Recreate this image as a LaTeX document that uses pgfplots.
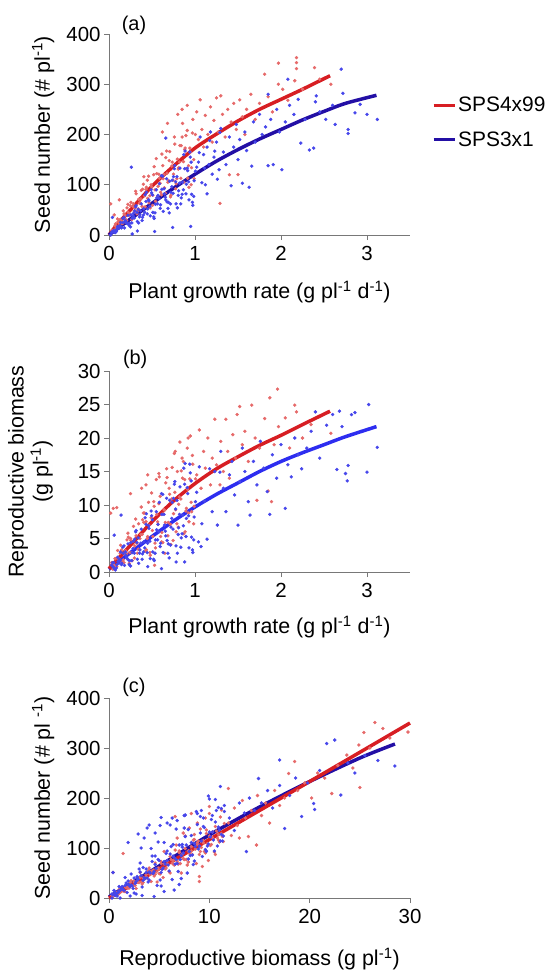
\documentclass[border=0pt]{standalone}
\usepackage{fontspec}
\setmainfont{Liberation Sans}
\usepackage{pgfplots}
\pgfplotsset{compat=1.18}

\definecolor{redpt}{RGB}{230,105,105}
\definecolor{bluept}{RGB}{70,70,235}
\definecolor{redln}{RGB}{215,30,35}
\definecolor{blueln}{RGB}{35,15,165}
\definecolor{bluelnb}{RGB}{45,45,240}
\definecolor{axgray}{RGB}{120,120,120}

\pgfplotsset{
  panel/.style={
    scale only axis, width=301bp, height=201bp,
    axis x line*=bottom, axis y line*=left,
    axis line style={axgray, line width=0.8bp},
    tick style={axgray, line width=0.8bp},
    tick align=outside, major tick length=5bp,
    tick label style={font=\fontsize{20.5}{22}\selectfont, black},
    /pgf/number format/assume math mode=true,
    label style={font=\fontsize{21.5}{25}\selectfont},
    clip=false,
    xticklabel style={yshift=-3bp},
  },
  redpts/.style={only marks, color=redpt, mark=*, mark size=1.5bp, mark options={draw=none, fill=redpt}, forget plot},
  bluepts/.style={only marks, color=bluept, mark=*, mark size=1.5bp, mark options={draw=none, fill=bluept}, forget plot},
  fit/.style={no marks, smooth, line width=3.5bp},
}

\begin{document}
\begin{tikzpicture}
\useasboundingbox (0,0) rectangle (558bp,-971bp);

% ---------- (a)
\begin{axis}[panel, at={(109bp,-235bp)}, anchor=south west,
    xmin=0, xmax=3.5, ymin=0, ymax=400,
    xtick={0,1,2,3}, ytick={0,100,200,300,400},
    xlabel={Plant growth rate (g pl\textsuperscript{-1} d\textsuperscript{-1})},
    ylabel={Seed number (\# pl\textsuperscript{-1})},
    xlabel style={at={(axis description cs:0.5,-0.284)}, anchor=center},
    ylabel style={at={(axis description cs:-0.219,0.5)}, anchor=center},
    legend style={at={(1.073,0.56)}, anchor=west, draw=none, fill=none,
      font=\fontsize{21}{25}\selectfont, row sep=14bp, inner xsep=0pt},
    legend cell align=left,
    every even column/.append style={column sep=5bp},
    legend image code/.code={\draw[#1, line width=3bp] (0bp,0bp) -- (21bp,0bp);},
  ]
\addplot[redpts] coordinates {
(0.03,9)(0.06,10)(0.04,9)(0.09,13)(0.07,18)(0.12,23)(0.10,32)(0.15,23)(0.13,31)(0.18,35)(0.16,23)(0.21,54)(0.19,39)(0.24,41)(0.22,61)(0.27,32)(0.25,58)(0.30,53)(0.28,57)(0.33,48)(0.31,87)(0.36,65)(0.34,52)(0.39,91)(0.37,72)(0.42,56)(0.40,101)(0.45,73)(0.43,91)(0.48,54)
(0.46,117)(0.51,79)(0.49,100)(0.54,67)(0.52,120)(0.57,97)(0.55,152)(0.60,85)(0.58,121)(0.63,112)(0.61,80)(0.66,154)(0.64,120)(0.69,108)(0.67,167)(0.72,79)(0.70,148)(0.75,121)(0.73,137)(0.78,102)(0.76,195)(0.81,134)(0.79,112)(0.84,178)(0.82,145)(0.87,105)(0.85,195)(0.90,132)(0.88,170)(0.93,95)(0.91,208)(0.96,134)(0.94,173)(0.99,112)(0.97,203)
(0.045,9)(0.075,22)(0.055,7)(0.105,26)(0.085,17)(0.135,30)(0.115,18)(0.165,48)(0.145,28)(0.195,31)(0.175,42)(0.225,45)(0.205,29)(0.255,65)(0.235,39)(0.285,62)(0.265,31)(0.315,82)(0.295,47)(0.345,71)(0.325,42)(0.375,89)(0.355,63)(0.405,116)(0.385,57)(0.435,95)(0.415,78)(0.465,64)(0.445,109)(0.495,96)
(0.475,78)(0.525,136)(0.505,59)(0.555,122)(0.535,90)(0.585,113)(0.565,77)(0.615,161)(0.595,103)(0.645,94)(0.625,138)(0.675,123)(0.655,83)(0.705,166)(0.685,105)(0.735,145)(0.715,76)(0.765,181)(0.745,109)(0.795,151)(0.775,92)(0.825,178)(0.805,131)(0.855,222)(0.835,113)(0.885,173)(0.865,146)(0.915,113)(0.895,198)(0.945,165)(0.925,138)(0.975,230)(0.955,100)(1.005,200)(0.985,150)
(0.02,62)(0.12,70)(0.06,40)(0.62,205)(0.68,222)(0.80,240)(0.85,250)(0.91,258)
(1.02,245)(1.04,190)(1.06,269)(1.08,210)(1.10,175)(1.12,238)(1.15,200)(1.18,255)(1.20,185)(1.22,228)(1.25,273)(1.27,205)(1.30,277)(1.29,63)(1.32,240)(1.35,195)(1.38,250)(1.40,120)(1.42,225)(1.45,262)(1.48,210)(1.50,120)(1.52,269)(1.55,235)(1.58,200)(1.60,250)
(1.65,280)(1.70,230)(1.75,262)(1.81,320)(1.85,275)(1.90,245)(1.97,342)(1.97,300)(2.02,290)(2.08,268)(2.16,307)(2.18,353)(2.18,343)(2.18,331)(2.25,290)(2.39,333)(2.45,310)(2.58,300)
};
\addplot[bluepts] coordinates {
(0.03,5)(0.06,6)(0.04,7)(0.09,11)(0.07,5)(0.12,18)(0.10,17)(0.15,16)(0.13,17)(0.18,14)(0.16,33)(0.21,23)(0.19,29)(0.24,23)(0.22,39)(0.27,33)(0.25,16)(0.30,48)(0.28,38)(0.33,27)(0.31,56)(0.36,40)(0.34,51)(0.39,35)(0.37,48)(0.42,80)(0.40,40)(0.45,52)(0.43,67)(0.48,38)
(0.46,70)(0.51,45)(0.49,90)(0.54,61)(0.52,36)(0.57,79)(0.55,90)(0.60,60)(0.58,73)(0.63,47)(0.61,118)(0.66,70)(0.64,92)(0.69,65)(0.67,112)(0.72,85)(0.70,44)(0.75,116)(0.73,96)(0.78,62)(0.76,132)(0.81,88)(0.79,116)(0.84,74)(0.82,103)(0.87,160)(0.85,81)(0.90,101)(0.88,132)(0.93,70)
(0.91,133)(0.96,81)(0.94,165)(0.99,108)(0.97,65)(1.02,135)(1.05,164)(1.08,104)(1.11,133)(1.14,82)(1.17,188)(1.20,121)(1.23,167)(1.26,111)(1.29,204)
(0.045,6)(0.075,5)(0.055,9)(0.105,15)(0.085,7)(0.135,25)(0.115,13)(0.165,25)(0.145,14)(0.195,26)(0.175,35)(0.225,23)(0.205,24)(0.255,40)(0.235,19)(0.285,43)(0.265,24)(0.315,58)(0.295,34)(0.345,24)(0.325,45)(0.375,62)(0.355,36)(0.405,52)(0.385,29)(0.435,85)(0.415,45)(0.465,68)(0.445,42)(0.495,84)
(0.475,57)(0.525,33)(0.505,80)(0.555,74)(0.535,44)(0.585,102)(0.565,62)(0.615,91)(0.595,53)(0.645,82)(0.625,117)(0.675,66)(0.655,75)(0.705,107)(0.685,53)(0.735,109)(0.715,62)(0.765,138)(0.745,83)(0.795,54)(0.775,106)(0.825,133)(0.805,79)(0.855,105)(0.835,62)(0.885,167)(0.865,90)(0.915,128)(0.895,82)(0.945,155)(0.925,106)(0.975,59)(0.955,145)(1.005,127)(0.985,77)
(0.02,0)(0.04,35)(0.26,135)(0.27,2)(0.33,8)(0.53,7)(0.66,193)(0.74,15)(0.95,17)
(1.04,145)(1.06,195)(1.10,160)(1.12,100)(1.14,175)(1.16,140)(1.18,205)
(1.22,155)(1.25,185)(1.28,130)(1.30,212)(1.33,165)(1.36,140)(1.40,195)(1.42,98)(1.45,175)(1.48,220)(1.50,150)(1.52,190)(1.55,103)(1.58,205)(1.60,168)(1.63,95)(1.66,137)(1.68,225)(1.70,185)(1.75,240)(1.78,200)(1.82,215)(1.85,280)(1.85,138)(1.88,230)(1.91,140)(1.95,250)(1.98,205)
(2.01,130)(2.05,225)(2.08,310)(2.10,258)(2.15,240)(2.20,270)(2.23,183)(2.28,230)(2.33,169)(2.38,173)(2.40,265)(2.41,277)(2.45,245)(2.52,230)(2.60,258)(2.63,220)(2.70,330)(2.72,282)(2.78,210)(2.78,202)(2.86,243)(2.92,260)(3.00,240)(3.12,230)
};
\addplot[fit, redln] coordinates {
(0,0)(0.1,22)(0.25,50)(0.5,97)(0.75,137)(1,173)(1.25,201)(1.5,227)(1.75,250)(2,270)(2.25,290)(2.57,317)
};
\addlegendentry{SPS4x99}
\addplot[fit, blueln] coordinates {
(0,0)(0.1,13)(0.25,32)(0.5,63)(0.75,93)(1,121)(1.25,147)(1.5,170)(1.75,191)(2,210)(2.25,229)(2.5,246)(2.75,262)(3.11,278)
};
\addlegendentry{SPS3x1}
\node[font=\fontsize{20}{22}\selectfont] at (axis description cs:0.083,1.045) {(a)};
\end{axis}

% ---------- (b)
\begin{axis}[panel, at={(109bp,-572bp)}, anchor=south west,
    xmin=0, xmax=3.5, ymin=0, ymax=30,
    xtick={0,1,2,3}, ytick={0,5,10,15,20,25,30},
    xlabel={Plant growth rate (g pl\textsuperscript{-1} d\textsuperscript{-1})},
    ylabel={Reproductive biomass\\(g pl\textsuperscript{-1})},
    xlabel style={at={(axis description cs:0.5,-0.275)}, anchor=center},
    ylabel style={at={(axis description cs:-0.261,0.5)}, anchor=center, align=center},
  ]
\addplot[redpts] coordinates {
(0.03,1.4)(0.06,0.9)(0.04,1.1)(0.09,0.8)(0.07,2.0)(0.12,1.9)(0.10,3.2)(0.15,1.6)(0.13,2.8)(0.18,2.9)(0.16,1.4)(0.21,4.8)(0.19,3.2)(0.24,2.9)(0.22,5.8)(0.27,1.7)(0.25,5.0)(0.30,3.9)(0.28,4.6)(0.33,2.8)(0.31,7.9)(0.36,5.0)(0.34,3.4)(0.39,7.8)(0.37,5.6)(0.42,3.1)(0.40,8.8)(0.45,5.3)(0.43,7.5)(0.48,2.5)
(0.46,10.4)(0.51,5.3)(0.49,8.1)(0.54,3.6)(0.52,10.5)(0.57,7.1)(0.55,13.8)(0.60,5.3)(0.58,10.2)(0.63,8.7)(0.61,4.5)(0.66,13.3)(0.64,9.3)(0.69,7.4)(0.67,15.4)(0.72,4.1)(0.70,12.5)(0.75,8.7)(0.73,10.9)(0.78,6.0)(0.76,17.7)(0.81,10.1)(0.79,7.2)(0.84,15.1)(0.82,11.2)(0.87,5.7)(0.85,17.0)(0.90,9.5)(0.88,13.8)(0.93,7.5)(0.91,18.5)(0.96,9.0)(0.94,13.9)(0.99,9.8)(0.97,17.4)
(0.045,0.4)(0.075,2.0)(0.055,1.1)(0.105,2.1)(0.085,0.9)(0.135,4.0)(0.115,1.9)(0.165,1.8)(0.145,3.3)(0.195,3.1)(0.175,1.4)(0.225,5.2)(0.205,2.7)(0.255,4.7)(0.235,1.3)(0.285,6.8)(0.265,2.9)(0.315,5.4)(0.295,2.1)(0.345,7.2)(0.325,4.3)(0.375,9.7)(0.355,3.3)(0.405,7.4)(0.385,5.6)(0.435,3.3)(0.415,8.8)(0.465,7.0)(0.445,5.0)(0.495,11.8)
(0.475,2.9)(0.525,9.8)(0.505,6.2)(0.555,8.6)(0.535,4.3)(0.585,14.2)(0.565,7.5)(0.615,5.9)(0.595,11.3)(0.645,9.2)(0.625,4.4)(0.675,14.1)(0.655,7.4)(0.705,11.6)(0.685,5.4)(0.735,15.6)(0.715,7.1)(0.765,11.9)(0.745,4.7)(0.795,15.0)(0.775,9.3)(0.825,19.4)(0.805,6.7)(0.855,14.0)(0.835,10.9)(0.885,6.0)(0.865,16.5)(0.915,12.3)(0.895,9.1)(0.945,20.3)(0.925,8.8)(0.975,16.1)(0.955,10.4)(1.005,13.9)(0.985,7.2)
(0.02,8.8)(0.05,9.5)(0.09,9.6)(0.25,11.7)(0.45,14.5)(0.58,14.7)(0.53,1)(0.65,2.8)(0.38,12.5)(0.43,13)(0.77,18)(0.92,20)
(1.02,14.5)(1.05,21.2)(1.07,12.5)(1.10,18)(1.12,15.5)(1.15,20)(1.18,13)(1.20,17)(1.23,22.8)(1.25,16)(1.29,13)(1.30,19.5)(1.33,15)(1.36,22.8)(1.38,18)(1.40,14)(1.44,20.5)(1.47,17)(1.49,23.5)(1.52,24.7)(1.55,19)(1.58,21)(1.62,16.5)(1.66,24.9)(1.70,20)(1.72,10.7)(1.75,18.5)(1.81,22.9)(1.85,12.1)(1.87,26)(1.89,10.5)(1.92,19)(1.96,27.3)(1.97,21.7)(2.05,23)(2.10,18.5)(2.16,24.9)(2.18,23.9)(2.25,20)(2.35,22)(2.58,20.7)
};
\addplot[bluepts] coordinates {
(0.03,1.0)(0.06,0.6)(0.04,1.4)(0.09,1.1)(0.07,0.4)(0.12,1.9)(0.10,2.2)(0.15,1.3)(0.13,1.7)(0.18,1.0)(0.16,3.7)(0.21,2.0)(0.19,3.0)(0.24,1.7)(0.22,4.2)(0.27,2.9)(0.25,0.9)(0.30,4.9)(0.28,3.5)(0.33,1.9)(0.31,6.0)(0.36,3.3)(0.34,5.1)(0.39,2.7)(0.37,4.3)(0.42,8.1)(0.40,3.0)(0.45,4.3)(0.43,7.1)(0.48,2.0)
(0.46,6.9)(0.51,3.0)(0.49,9.1)(0.54,4.8)(0.52,1.9)(0.57,7.1)(0.55,9.0)(0.60,4.3)(0.58,6.0)(0.63,2.9)(0.61,11.7)(0.66,5.4)(0.64,8.6)(0.69,4.2)(0.67,11.0)(0.72,6.7)(0.70,2.1)(0.75,11.0)(0.73,8.0)(0.78,3.9)(0.76,13.1)(0.81,6.6)(0.79,10.7)(0.84,5.1)(0.82,8.6)(0.87,15.5)(0.85,5.7)(0.90,8.0)(0.88,13.1)(0.93,3.6)
(0.91,12.6)(0.96,5.2)(0.94,16.1)(0.99,8.2)(0.97,3.3)(1.02,11.9)(1.05,15.7)(1.08,7.2)(1.11,10.6)(1.14,4.9)(1.17,15.4)(1.20,9.0)(1.23,15.0)(1.26,7.0)(1.29,14.9)
(0.045,0.8)(0.075,0.3)(0.055,1.4)(0.105,1.6)(0.085,0.6)(0.135,3.0)(0.115,1.3)(0.165,2.8)(0.145,1.1)(0.195,2.5)(0.175,3.9)(0.225,1.8)(0.205,2.2)(0.255,4.4)(0.235,1.1)(0.285,4.6)(0.265,1.7)(0.315,6.2)(0.295,2.8)(0.345,1.3)(0.325,4.4)(0.375,6.4)(0.355,2.8)(0.405,4.5)(0.385,1.9)(0.435,8.7)(0.415,3.6)(0.465,6.5)(0.445,2.9)(0.495,8.4)
(0.475,4.6)(0.525,1.7)(0.505,7.8)(0.555,6.3)(0.535,2.8)(0.585,10.4)(0.565,4.8)(0.615,8.6)(0.595,3.8)(0.645,7.0)(0.625,11.6)(0.675,4.7)(0.655,6.1)(0.705,10.7)(0.685,2.8)(0.735,10.4)(0.715,4.0)(0.765,13.5)(0.745,6.4)(0.795,2.8)(0.775,9.4)(0.825,12.7)(0.805,5.6)(0.855,8.5)(0.835,3.7)(0.885,16.2)(0.865,6.9)(0.915,11.7)(0.895,5.3)(0.945,14.8)(0.925,8.4)(0.975,2.9)(0.955,13.6)(1.005,10.5)(0.985,4.8)
(0.06,5.5)(0.14,8.5)(0.61,0.5)(0.78,1.5)(0.88,1.5)(1.04,4.5)(1.07,3.8)(0.45,0.8)
(1.30,18)(1.33,12.5)(1.36,9)(1.40,14.5)(1.43,16.5)(1.46,11.5)(1.50,7)(1.52,13.5)(1.55,18.5)(1.58,15)(1.62,10.5)(1.64,8.5)(1.68,16.5)(1.72,13)(1.76,19.5)(1.80,15.5)(1.84,12)(1.87,8.6)(1.90,17.5)(1.95,14)(2.00,19)
(2.05,9.5)(2.08,16)(2.12,14.2)(2.16,20)(2.20,17.5)(2.24,15.4)(2.30,18.5)(2.35,21)(2.40,23.9)(2.45,17)(2.53,21.9)(2.60,23.5)(2.65,15.3)(2.68,24)(2.71,21.7)(2.75,14.7)(2.77,13.6)(2.78,15.9)(2.82,23.5)(2.86,23.8)(3.00,14.9)(3.02,25)(3.12,18.6)
};
\addplot[fit, bluelnb] coordinates {
(0,0.4)(0.25,2.9)(0.5,5.3)(0.75,7.6)(1,9.7)(1.25,11.6)(1.5,13.3)(1.75,15)(2,16.5)(2.25,17.8)(2.5,19)(2.75,20.2)(3.11,21.7)
};
\addplot[fit, redln] coordinates {
(0,0.5)(0.25,4)(0.5,7.5)(0.75,10.6)(1,13.2)(1.25,15.4)(1.5,17.2)(1.75,18.9)(2,20.4)(2.25,22)(2.57,24)
};
\node[font=\fontsize{20}{22}\selectfont] at (axis description cs:0.087,1.06) {(b)};
\end{axis}

% ---------- (c)
\begin{axis}[panel, at={(109bp,-898bp)}, anchor=south west, height=200bp,
    xmin=0, xmax=30, ymin=0, ymax=400,
    xtick={0,10,20,30}, ytick={0,100,200,300,400},
    xlabel={Reproductive biomass (g pl\textsuperscript{-1})},
    ylabel={Seed number (\# pl \textsuperscript{-1})},
    xlabel style={at={(axis description cs:0.5,-0.305)}, anchor=center},
    ylabel style={at={(axis description cs:-0.219,0.5)}, anchor=center},
  ]
\addplot[redpts] coordinates {
(0.3,5)(0.6,6)(0.5,6)(0.9,7)(0.8,11)(1.2,13)(1.0,17)(1.5,13)(1.3,17)(1.8,20)(1.6,13)(2.1,31)(1.9,22)(2.4,24)(2.2,35)(2.7,19)(2.5,34)(3.0,31)(2.8,33)(3.3,28)(3.1,51)(3.6,39)(3.4,31)(3.9,54)(3.7,42)(4.2,33)(4.0,60)(4.5,44)(4.3,54)(4.8,32)
(4.6,70)(5.1,48)(4.9,60)(5.4,41)(5.2,73)(5.7,60)(5.5,93)(6.0,53)(5.8,74)(6.3,70)(6.1,50)(6.6,96)(6.4,75)(6.9,68)(6.7,106)(7.2,50)(7.0,94)(7.5,77)(7.3,87)(7.8,66)(7.6,124)(8.1,87)(7.9,72)(8.4,116)(8.2,94)(8.7,69)(8.5,127)(9.0,87)(8.8,111)(9.3,63)
(9.1,138)(9.6,90)(9.4,115)(9.9,75)(9.7,136)(10.2,107)(10.0,169)(10.5,92)(10.3,132)(10.8,120)(10.6,87)(11.1,162)(10.9,127)(11.4,113)(11.2,176)
(0.4,4)(0.7,9)(0.6,6)(1.0,12)(0.9,10)(1.3,15)(1.1,11)(1.6,22)(1.4,16)(1.9,20)(1.7,21)(2.2,25)(2.0,20)(2.5,32)(2.3,25)(2.8,34)(2.6,25)(3.1,41)(2.9,31)(3.4,40)(3.2,32)(3.7,47)(3.5,39)(4.0,55)(3.8,40)(4.3,52)(4.1,47)(4.6,47)(4.4,56)(4.9,57)
(4.7,52)(5.2,69)(5.0,49)(5.5,68)(5.3,59)(5.8,68)(5.6,58)(6.1,83)(5.9,67)(6.4,68)(6.2,77)(6.7,77)(6.5,66)(7.0,91)(6.8,74)(7.3,88)(7.1,69)(7.6,99)(7.4,79)(7.9,94)(7.7,77)(8.2,103)(8.0,90)(8.5,117)(8.3,87)(8.8,107)(8.6,98)(9.1,93)(8.9,114)(9.4,110)
(9.2,101)(9.7,129)(9.5,93)(10.0,124)(9.8,109)(10.3,121)(10.1,105)(10.6,143)(10.4,118)(10.9,116)(10.7,134)(11.2,129)(11.0,112)(11.5,149)(11.3,123)
(0.4,51)(1.4,89)(6.6,163)(8.2,169)(9.0,33)(9.0,43)(10.0,183)(6.8,120)(7.4,130)(8.0,140)(8.8,150)(9.6,160)
(11.9,219)(11.9,150)(12.2,125)(12.5,180)(12.8,145)(13.0,120)
(13.3,195)(13.6,160)(13.9,123)(14.2,175)(14.7,106)(14.8,205)(15.2,165)(15.6,190)(16.0,150)(16.5,215)(17.0,185)(17.5,200)(17.9,249)(18.5,273)(18.8,215)(19.5,230)(20.2,200)(20.8,250)(21.5,240)(22.2,209)(22.8,265)(23.7,286)(24.3,260)(24.9,306)(25.0,221)(25.4,331)(26.0,300)(26.5,351)(27.3,339)(28.0,320)(29.8,332)
};
\addplot[bluepts] coordinates {
(0.3,8)(0.6,5)(0.5,15)(0.9,11)(0.8,4)(1.2,21)(1.0,23)(1.5,15)(1.3,18)(1.8,11)(1.6,41)(2.1,23)(1.9,34)(2.4,19)(2.2,48)(2.7,33)(2.5,10)(3.0,58)(2.8,40)(3.3,22)(3.1,70)(3.6,39)(3.4,61)(3.9,32)(3.7,51)(4.2,99)(4.0,36)(4.5,53)(4.3,84)(4.8,25)
(4.6,84)(5.1,36)(4.9,112)(5.4,60)(5.2,24)(5.7,89)(5.5,111)(6.0,54)(5.8,75)(6.3,37)(6.1,146)(6.6,68)(6.4,107)(6.9,53)(6.7,138)(7.2,85)(7.0,27)(7.5,140)(7.3,102)(7.8,50)(7.6,166)(8.1,85)(7.9,137)(8.4,67)(8.2,111)(8.7,173)(8.5,74)(9.0,104)(8.8,169)(9.3,83)
(9.1,163)(9.6,97)(9.4,160)(9.9,108)(9.7,93)(10.2,157)(10.0,198)(10.5,94)(10.3,132)(10.8,104)(10.6,197)(11.1,114)(10.9,181)(11.4,124)(11.2,179)
(0.4,7)(0.7,8)(0.6,11)(1.0,15)(0.9,11)(1.3,23)(1.1,15)(1.6,25)(1.4,17)(1.9,27)(1.7,30)(2.2,26)(2.0,26)(2.5,40)(2.3,24)(2.8,43)(2.6,29)(3.1,52)(2.9,37)(3.4,35)(3.2,45)(3.7,58)(3.5,41)(4.0,52)(3.8,40)(4.3,73)(4.1,50)(4.6,67)(4.4,49)(4.9,77)
(4.7,59)(5.2,51)(5.0,75)(5.5,73)(5.3,57)(5.8,94)(5.6,68)(6.1,88)(5.9,66)(6.4,84)(6.2,103)(6.7,77)(6.5,81)(7.0,106)(6.8,69)(7.3,107)(7.1,77)(7.6,123)(7.4,90)(7.9,78)(7.7,106)(8.2,125)(8.0,93)(8.5,109)(8.3,86)(8.8,147)(8.6,103)(9.1,130)(8.9,98)(9.4,143)
(9.2,114)(9.7,94)(9.5,141)(10.0,132)(9.8,104)(10.3,165)(10.1,122)(10.6,152)(10.4,116)(10.9,142)(10.7,175)(11.2,127)(11.0,136)(11.5,173)(11.3,114)
(0.4,51)(1.9,111)(2.9,128)(4.0,146)(5.2,161)(3.8,140)(4.5,3)(5.5,13)(6.5,16)(7.2,39)(0.3,0)(1.1,0)(3.3,5)(2.1,4)(2.7,8)(3.5,120)(3.2,100)(5.8,150)(6.3,160)(4.6,130)(5.1,145)(6.8,155)(7.5,165)(9.9,204)(9.2,175)
(11.1,223)(11.5,185)(12.0,160)(12.5,135)
(13.0,190)(13.7,93)(13.5,170)(14.0,200)(14.5,175)(14.9,239)(15.2,190)(15.8,215)(16.3,180)(17.0,276)(17.0,225)(17.5,139)(18.0,205)(18.6,240)(19.2,163)(19.8,230)(20.4,189)(20.5,177)(21.0,255)(21.7,309)(22.5,316)(23.1,206)(23.8,270)(24.5,250)(25.5,285)(26.8,275)(28.5,264)
};
\addplot[fit, blueln] coordinates {
(0,2)(5,64)(10,126)(15,182)(20,233)(25,280)(28.5,308)
};
\addplot[fit, redln] coordinates {
(0,0)(10,117)(20,233)(30,350)
};
\node[font=\fontsize{20}{22}\selectfont] at (axis description cs:0.083,1.055) {(c)};
\end{axis}
\end{tikzpicture}
\end{document}
